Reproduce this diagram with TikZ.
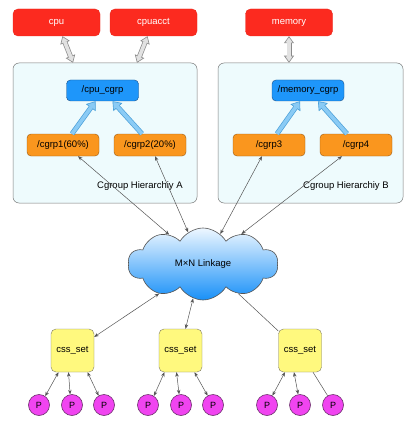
\documentclass[tikz,border=0pt]{standalone}
\usepackage{fontspec}
\setmainfont{Liberation Sans}
\usetikzlibrary{shapes.symbols,arrows.meta,calc}
\definecolor{cred}{HTML}{FC2A1F}
\definecolor{credd}{HTML}{E8281C}
\definecolor{hierfill}{HTML}{EEFBFD}
\definecolor{hierdraw}{HTML}{7A7A7A}
\definecolor{cblue}{HTML}{1E96FA}
\definecolor{cblued}{HTML}{1B4F86}
\definecolor{corange}{HTML}{FA961E}
\definecolor{coranged}{HTML}{9A5A10}
\definecolor{cyellow}{HTML}{FFF97E}
\definecolor{cyellowd}{HTML}{7E7A60}
\definecolor{cmag}{HTML}{F044F0}
\definecolor{cmagd}{HTML}{6A306A}
\definecolor{fatl}{HTML}{8ACBF5}
\definecolor{fatd}{HTML}{4A9FD8}
\definecolor{grayl}{HTML}{E2E2E2}
\definecolor{grayd}{HTML}{8A8A8A}
\definecolor{cloudtop}{HTML}{EEF7FF}
\definecolor{cloudbot}{HTML}{1890F8}
\definecolor{linec}{HTML}{555555}
\begin{document}
\begin{tikzpicture}[x={(1pt,0pt)},y={(0pt,-1pt)},
  every node/.style={font=\fontsize{9.5}{11}\selectfont},
  redbox/.style={draw=credd,fill=cred,text=white,rounded corners=5pt,minimum width=87pt,minimum height=27pt,inner sep=0pt},
  hierbox/.style={draw=hierdraw,fill=hierfill,rounded corners=6pt,minimum height=140pt,inner sep=0pt,line width=0.5pt},
  bluebox/.style={draw=cblued,fill=cblue,rounded corners=4pt,minimum width=72pt,minimum height=21pt,inner sep=0pt},
  orbox/.style={draw=coranged,fill=corange,rounded corners=4pt,minimum width=72pt,minimum height=22pt,inner sep=0pt},
  cssbox/.style={draw=cyellowd,fill=cyellow,rounded corners=5pt,minimum width=43pt,minimum height=43pt,inner sep=0pt},
  pnode/.style={circle,draw=cmagd,fill=cmag,minimum size=21pt,inner sep=0pt,line width=0.6pt,font=\fontsize{9}{10}\selectfont},
  thin/.style={draw=linec,line width=0.5pt},
  both/.style={thin,arrows={Stealth[length=4.5pt,width=3.5pt]-Stealth[length=4.5pt,width=3.5pt]}},
  fatblue/.style={line width=3.6pt,draw=fatl,shorten >=7pt,
     preaction={draw=fatd,line width=5pt,shorten >=0pt,-{Triangle[width=12pt,length=8pt,fill=fatl,line width=0.6pt]}}},
  fatgray/.style={line width=3.6pt,draw=grayl,shorten >=6pt,shorten <=6pt,
     preaction={draw=grayd,line width=5pt,shorten >=0pt,shorten <=0pt,{Triangle[width=10pt,length=7pt,fill=grayl,line width=0.6pt]}-{Triangle[width=10pt,length=7pt,fill=grayl,line width=0.6pt]}}}
]
\useasboundingbox[fill=white] (0,0) rectangle (415,425);
% hierarchy boxes
\node[hierbox,minimum width=184pt] (hierA) at (105,133) {};
\node[hierbox,minimum width=185pt] (hierB) at (310.5,133) {};
\node[anchor=east] (labA) at ([xshift=-11pt,yshift=17pt]hierA.south east) {Cgroup Hierarchiy A};
\node[anchor=east] (labB) at ([xshift=-11pt,yshift=17pt]hierB.south east) {Cgroup Hierarchiy B};
% subsystems
\node[redbox] (cpu) at (56.5,22.5) {cpu};
\node[redbox] (cpuacct) at (153.5,22.5) {cpuacct};
\node[redbox] (memory) at (289,22.5) {memory};
% cgroups
\node[bluebox] (cpucg) at (102.5,90.5) {/cpu\_cgrp};
\node[bluebox] (memcg) at (308,90.5) {/memory\_cgrp};
\node[orbox] (cg1) at (63,145) {/cgrp1(60\%)};
\node[orbox] (cg2) at (150,145) {/cgrp2(20\%)};
\node[orbox] (cg3) at (269,145) {/cgrp3};
\node[orbox] (cg4) at (356,145) {/cgrp4};
% gray arrows
\draw[fatgray] ([xshift=6pt]cpu.south) -- ([xshift=-32pt]hierA.north);
\draw[fatgray] ([xshift=-6pt]cpuacct.south) -- ([xshift=32pt]hierA.north);
\draw[fatgray] (memory.south) -- ([xshift=-21.5pt]hierB.north);
% blue arrows
\draw[fatblue] ([xshift=9pt]cg1.north) -- ([xshift=-7pt]cpucg.south);
\draw[fatblue] ([xshift=-8pt]cg2.north) -- ([xshift=10pt]cpucg.south);
\draw[fatblue] ([xshift=8pt]cg3.north) -- ([xshift=-8pt]memcg.south);
\draw[fatblue] ([xshift=-9pt]cg4.north) -- ([xshift=10pt]memcg.south);
% cloud
\node[cloud,cloud puffs=10,cloud puff arc=120,aspect=2.1,minimum width=150pt,minimum height=72pt,inner sep=0pt,
  draw=linec,line width=0.6pt,top color=cloudtop,bottom color=cloudbot] (cloud) at (203,264) {M×N Linkage};
\draw[both] (cloud.139) -- ([xshift=15pt]cg1.south);
\draw[both] (cloud.115) -- ([xshift=5pt]cg2.south);
\draw[both] (cloud.60) -- ([xshift=-7pt]cg3.south);
\draw[both] (cloud.38) -- ([xshift=-14pt]cg4.south);
% css sets
\node[cssbox] (cs1) at (72.5,350.5) {css\_set};
\node[cssbox] (cs2) at (180.5,350.5) {css\_set};
\node[cssbox] (cs3) at (300,350.5) {css\_set};
\draw[both] (cloud.-146) -- (cs1.32);
\draw[both] (cloud.-106) -- ([xshift=5pt]cs2.north);
\draw[thin] (cloud.-40) -- (cs3.138);
% processes
\foreach \n/\x in {p1/39,p2/72,p3/104,p4/148,p5/181,p6/213,p7/267,p8/300,p9/333}
  \node[pnode] (\n) at (\x,405) {P};
\draw[both] ([xshift=-14pt]cs1.south) -- (p1.55);
\draw[both] ([xshift=-4pt]cs1.south) -- (p2.100);
\draw[both] ([xshift=15pt]cs1.south) -- (p3.120);
\draw[both] ([xshift=-16pt]cs2.south) -- (p4.57);
\draw[both] ([xshift=-4pt]cs2.south) -- (p5.100);
\draw[both] ([xshift=14pt]cs2.south) -- (p6.120);
\draw[both] ([xshift=-15pt]cs3.south) -- (p7.60);
\draw[both] ([xshift=-6pt]cs3.south) -- (p8.100);
\draw[thin] ([xshift=13pt]cs3.south) -- (p9.120);
\end{tikzpicture}
\end{document}
